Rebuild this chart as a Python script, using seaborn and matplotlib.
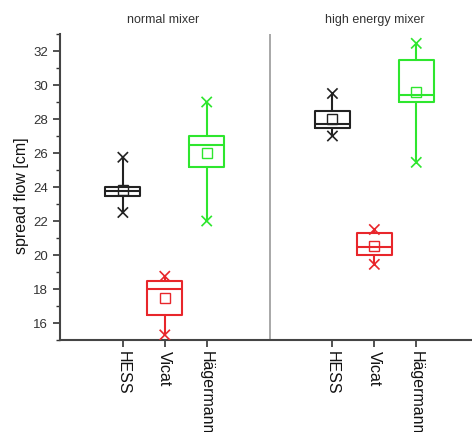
import numpy as np
import pandas as pd
import matplotlib
matplotlib.use("Agg")
import matplotlib.pyplot as plt
from matplotlib.ticker import MultipleLocator
import seaborn as sns

# ---- data ----
mixers = ["normal mixer", "high energy mixer"]
methods = ["HESS", "Vicat", "Hägermann"]
whisker_low = [22.5, 15.3, 22.0, 27.0, 19.45, 25.45]
q1 = [23.45, 16.5, 25.2, 27.5, 20.0, 29.0]
median = [23.75, 18.0, 26.5, 27.7, 20.5, 29.4]
q3 = [24.0, 18.5, 27.0, 28.5, 21.3, 31.45]
whisker_high = [25.75, 18.75, 29.0, 29.5, 21.5, 32.45]
mean = [23.85, 17.5, 26.0, 28.0, 20.55, 29.6]
colors = ["#222222", "#e8262b", "#2ee62e"]

sns.set_style("ticks")
plt.rcParams["font.family"] = ["Liberation Sans", "DejaVu Sans"]

fig = plt.figure(figsize=(4.72, 4.32), dpi=100)
ax = fig.add_axes([60 / 472, 1 - 340 / 432, 1 - 60 / 472, 306 / 432])

# positions: group g occupies slots 0..2 with a 2-slot gap between groups
positions = []
labels = []
mixer_col = []
method_col = []
for g, mx in enumerate(mixers):
    for i, m in enumerate(methods):
        positions.append(g * 5 + i)
        labels.append(m)
        mixer_col.append(mx)
        method_col.append(m)

df = pd.DataFrame({
    "pos": positions, "mixer": mixer_col, "method": method_col,
    "lo": whisker_low, "q1": q1, "med": median, "q3": q3,
    "hi": whisker_high, "mean": mean,
})

stats = []
for _, r in df.iterrows():
    stats.append(dict(whislo=r.lo, q1=r.q1, med=r.med, q3=r.q3,
                      whishi=r.hi, mean=r["mean"], label=r.method))

bp = ax.bxp(stats, positions=df["pos"].tolist(), widths=0.84,
            showfliers=False, showcaps=False, showmeans=False,
            patch_artist=False)
for k, (_, r) in enumerate(df.iterrows()):
    c = colors[methods.index(r.method)]
    bp["boxes"][k].set(color=c, linewidth=1.5)
    bp["medians"][k].set(color=c, linewidth=1.5)
    for w in bp["whiskers"][2 * k:2 * k + 2]:
        w.set(color=c, linewidth=1.5)

palette = dict(zip(methods, colors))
# whisker-end markers
ends = pd.concat([
    df[["pos", "method", "lo"]].rename(columns={"lo": "val"}),
    df[["pos", "method", "hi"]].rename(columns={"hi": "val"}),
])
sns.scatterplot(data=ends, x="pos", y="val", hue="method", palette=palette,
                marker="x", s=55, linewidth=1.2, legend=False, ax=ax, zorder=4)
# mean markers (open squares)
for _, r in df.iterrows():
    ax.plot(r.pos, r["mean"], marker="s", ms=7, mfc="none",
            mec=palette[r.method], mew=1.0, zorder=4)

# separator between groups
ax.axvline(3.5, color="#9a9a9a", linewidth=1.2, zorder=1)

# group titles
for g, mx in enumerate(mixers):
    ax.text(g * 5 + 1 - (0.05 if g == 0 else 0), 1.045, mx,
            transform=ax.get_xaxis_transform(), ha="center", va="center",
            fontsize=9, color="#333333")

ax.set_xlim(-1.5, 8.33)
ax.set_ylim(15, 33)
ax.set_xticks(df["pos"].tolist())
ax.set_xticklabels(labels, rotation=270, fontsize=11.5, va="top", ha="center")
ax.yaxis.set_major_locator(MultipleLocator(2))
ax.yaxis.set_minor_locator(MultipleLocator(1))
ax.set_yticks(np.arange(16, 33, 2))
ax.tick_params(axis="y", which="major", labelsize=9.5, length=5, width=1.2,
               direction="out", colors="#333333", labelcolor="#333333")
ax.tick_params(axis="y", which="minor", length=3, width=1.0, colors="#333333")
ax.tick_params(axis="x", which="major", length=5, width=1.2, colors="#333333",
               labelcolor="#111111", pad=3)
for s in ["top", "right"]:
    ax.spines[s].set_visible(False)
for s in ["left", "bottom"]:
    ax.spines[s].set_color("#444444")
    ax.spines[s].set_linewidth(1.5)

ax.set_xlabel("")
ax.set_ylabel("spread flow [cm]", fontsize=11.5, color="#111111")
ax.yaxis.set_label_coords(-0.075, 0.47)

fig.savefig("out.png", dpi=100)
